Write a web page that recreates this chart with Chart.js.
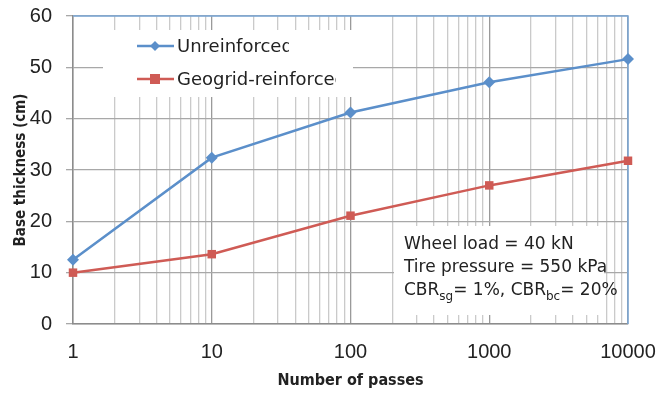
<!DOCTYPE html>
<html>
<head>
<meta charset="utf-8">
<script src="https://cdn.jsdelivr.net/npm/chart.js@4/dist/chart.umd.min.js"></script>
<style>
  html, body { margin: 0; padding: 0; background: #fff; }
  #wrap { width: 665px; height: 394px; }
</style>
</head>
<body>
<div id="wrap"><canvas id="chart" width="665" height="394"></canvas></div>
<script>
// Number of passes (log axis)
const passes = [1, 10, 100, 1000, 10000];
// Base thickness (cm)
const unreinforced = [12.5, 32.4, 41.2, 47.1, 51.6];
const reinforced = [10.0, 13.6, 21.1, 27.0, 31.8];
const seriesNames = ['Unreinforced', 'Geogrid-reinforced'];
const yTicks = [0, 10, 20, 30, 40, 50, 60];
const decadeLabels = ['1', '10', '100', '1000', '10000'];
const noteLines = ['Wheel load = 40 kN', 'Tire pressure = 550 kPa'];

const BLUE = '#5b8fca';
const RED = '#cf5b55';
const TITLE_FONT = '"DejaVu Sans Condensed", Roboto, sans-serif';

// every log gridline: 1..9 of each decade, then 10000
const xGrid = [];
for (let d = 1; d < 10000; d *= 10) {
    for (let k = 1; k < 10; k++) xGrid.push(k * d);
}
xGrid.push(10000);

const toPoints = (ys) => passes.map((x, i) => ({ x: x, y: ys[i] }));

// white boxes for the legend and the note, plus the blue top/right frame
const overlay = {
    id: 'overlay',
    beforeDatasetsDraw(chart) {
        const ctx = chart.ctx;
        const a = chart.chartArea;
        ctx.save();
        ctx.fillStyle = '#fff';
        ctx.fillRect(103, 30, 250, 67);
        ctx.fillRect(394, 226, 210, 89);

        // frame
        ctx.strokeStyle = '#7aa6d6';
        ctx.lineWidth = 1.5;
        ctx.beginPath();
        ctx.moveTo(a.left, a.top);
        ctx.lineTo(a.right, a.top);
        ctx.lineTo(a.right, a.bottom);
        ctx.stroke();
        ctx.restore();
    },
    afterDatasetsDraw(chart) {
        const ctx = chart.ctx;
        ctx.save();

        // legend
        const items = [
            { name: seriesNames[0], color: BLUE, y: 46, clip: 289, shape: 'diamond' },
            { name: seriesNames[1], color: RED, y: 79, clip: 336, shape: 'square' }
        ];
        items.forEach(it => {
            ctx.strokeStyle = it.color;
            ctx.lineWidth = 2.5;
            ctx.beginPath();
            ctx.moveTo(137, it.y);
            ctx.lineTo(174, it.y);
            ctx.stroke();
            ctx.fillStyle = it.color;
            if (it.shape === 'diamond') {
                ctx.beginPath();
                ctx.moveTo(155, it.y - 5);
                ctx.lineTo(160, it.y);
                ctx.lineTo(155, it.y + 5);
                ctx.lineTo(150, it.y);
                ctx.closePath();
                ctx.fill();
            } else {
                ctx.fillRect(150, it.y - 5, 10, 10);
            }
            ctx.save();
            ctx.beginPath();
            ctx.rect(175, it.y - 15, it.clip - 175, 30);
            ctx.clip();
            ctx.fillStyle = '#222';
            ctx.font = '18px "DejaVu Sans"';
            ctx.textBaseline = 'middle';
            ctx.fillText(it.name, 177, it.y + 1);
            ctx.restore();
        });

        // note
        ctx.beginPath();
        ctx.rect(394, 226, 228, 89);
        ctx.clip();
        ctx.fillStyle = '#222';
        ctx.font = '17px "DejaVu Sans"';
        ctx.textBaseline = 'middle';
        ctx.fillText(noteLines[0], 404, 245);
        ctx.fillText(noteLines[1], 404, 268);
        let x = 404;
        const y3 = 291;
        const part = (txt, sub) => {
            ctx.font = sub ? '12px "DejaVu Sans"' : '17px "DejaVu Sans"';
            ctx.fillText(txt, x, sub ? y3 + 6 : y3);
            x += ctx.measureText(txt).width;
        };
        part('CBR', false);
        part('sg', true);
        part('= 1%, CBR', false);
        part('bc', true);
        part('= 20%', false);
        ctx.restore();
    }
};

new Chart(document.getElementById('chart'), {
    type: 'line',
    data: {
        datasets: [
            {
                label: seriesNames[0],
                data: toPoints(unreinforced),
                borderColor: BLUE,
                backgroundColor: BLUE,
                borderWidth: 2.5,
                pointStyle: 'rectRot',
                pointRadius: 6,
                pointBorderWidth: 0,
                tension: 0
            },
            {
                label: seriesNames[1],
                data: toPoints(reinforced),
                borderColor: RED,
                backgroundColor: RED,
                borderWidth: 2.5,
                pointStyle: 'rect',
                pointRadius: 6,
                pointBorderWidth: 0,
                tension: 0
            }
        ]
    },
    options: {
        responsive: false,
        animation: false,
        clip: false,
        layout: { padding: { top: 16, right: 37, left: 0, bottom: 0 } },
        plugins: {
            legend: { display: false },
            tooltip: { enabled: false }
        },
        scales: {
            x: {
                type: 'logarithmic',
                min: 1,
                max: 10000,
                afterBuildTicks: (scale) => {
                    scale.ticks = xGrid.map(v => ({ value: v }));
                },
                afterFit: (scale) => {
                    scale.height = 70;
                    scale.paddingLeft = 0;
                    scale.paddingRight = 0;
                },
                ticks: {
                    autoSkip: false,
                    maxRotation: 0,
                    padding: 16,
                    color: '#222',
                    font: { family: 'Liberation Sans', size: 20 },
                    callback: (v) => {
                        const i = passes.indexOf(v);
                        return i >= 0 ? decadeLabels[i] : '';
                    }
                },
                grid: {
                    drawTicks: false,
                    lineWidth: 1.3,
                    color: (c) => passes.includes(c.tick.value) ? '#9a9a9a' : '#cacaca'
                },
                border: { color: '#8c8c8c', width: 1.5 },
                title: {
                    display: true,
                    text: 'Number of passes',
                    color: '#222',
                    font: { family: TITLE_FONT, size: 16, weight: 'bold' },
                    padding: { top: 6 }
                }
            },
            y: {
                min: 0,
                max: 60,
                afterBuildTicks: (scale) => {
                    scale.ticks = yTicks.map(v => ({ value: v }));
                },
                afterFit: (scale) => {
                    scale.width = 73;
                    scale.paddingTop = 0;
                    scale.paddingBottom = 0;
                },
                ticks: {
                    padding: 14,
                    color: '#222',
                    font: { family: 'Liberation Sans', size: 20 }
                },
                grid: {
                    tickLength: 7,
                    lineWidth: 1.3,
                    color: '#a8a8a8'
                },
                border: { color: '#8c8c8c', width: 1.5 },
                title: {
                    display: true,
                    text: 'Base thickness (cm)',
                    color: '#222',
                    font: { family: TITLE_FONT, size: 15, weight: 'bold' },
                    padding: { top: 12, bottom: 0 }
                }
            }
        }
    },
    plugins: [overlay]
});
</script>
</body>
</html>
